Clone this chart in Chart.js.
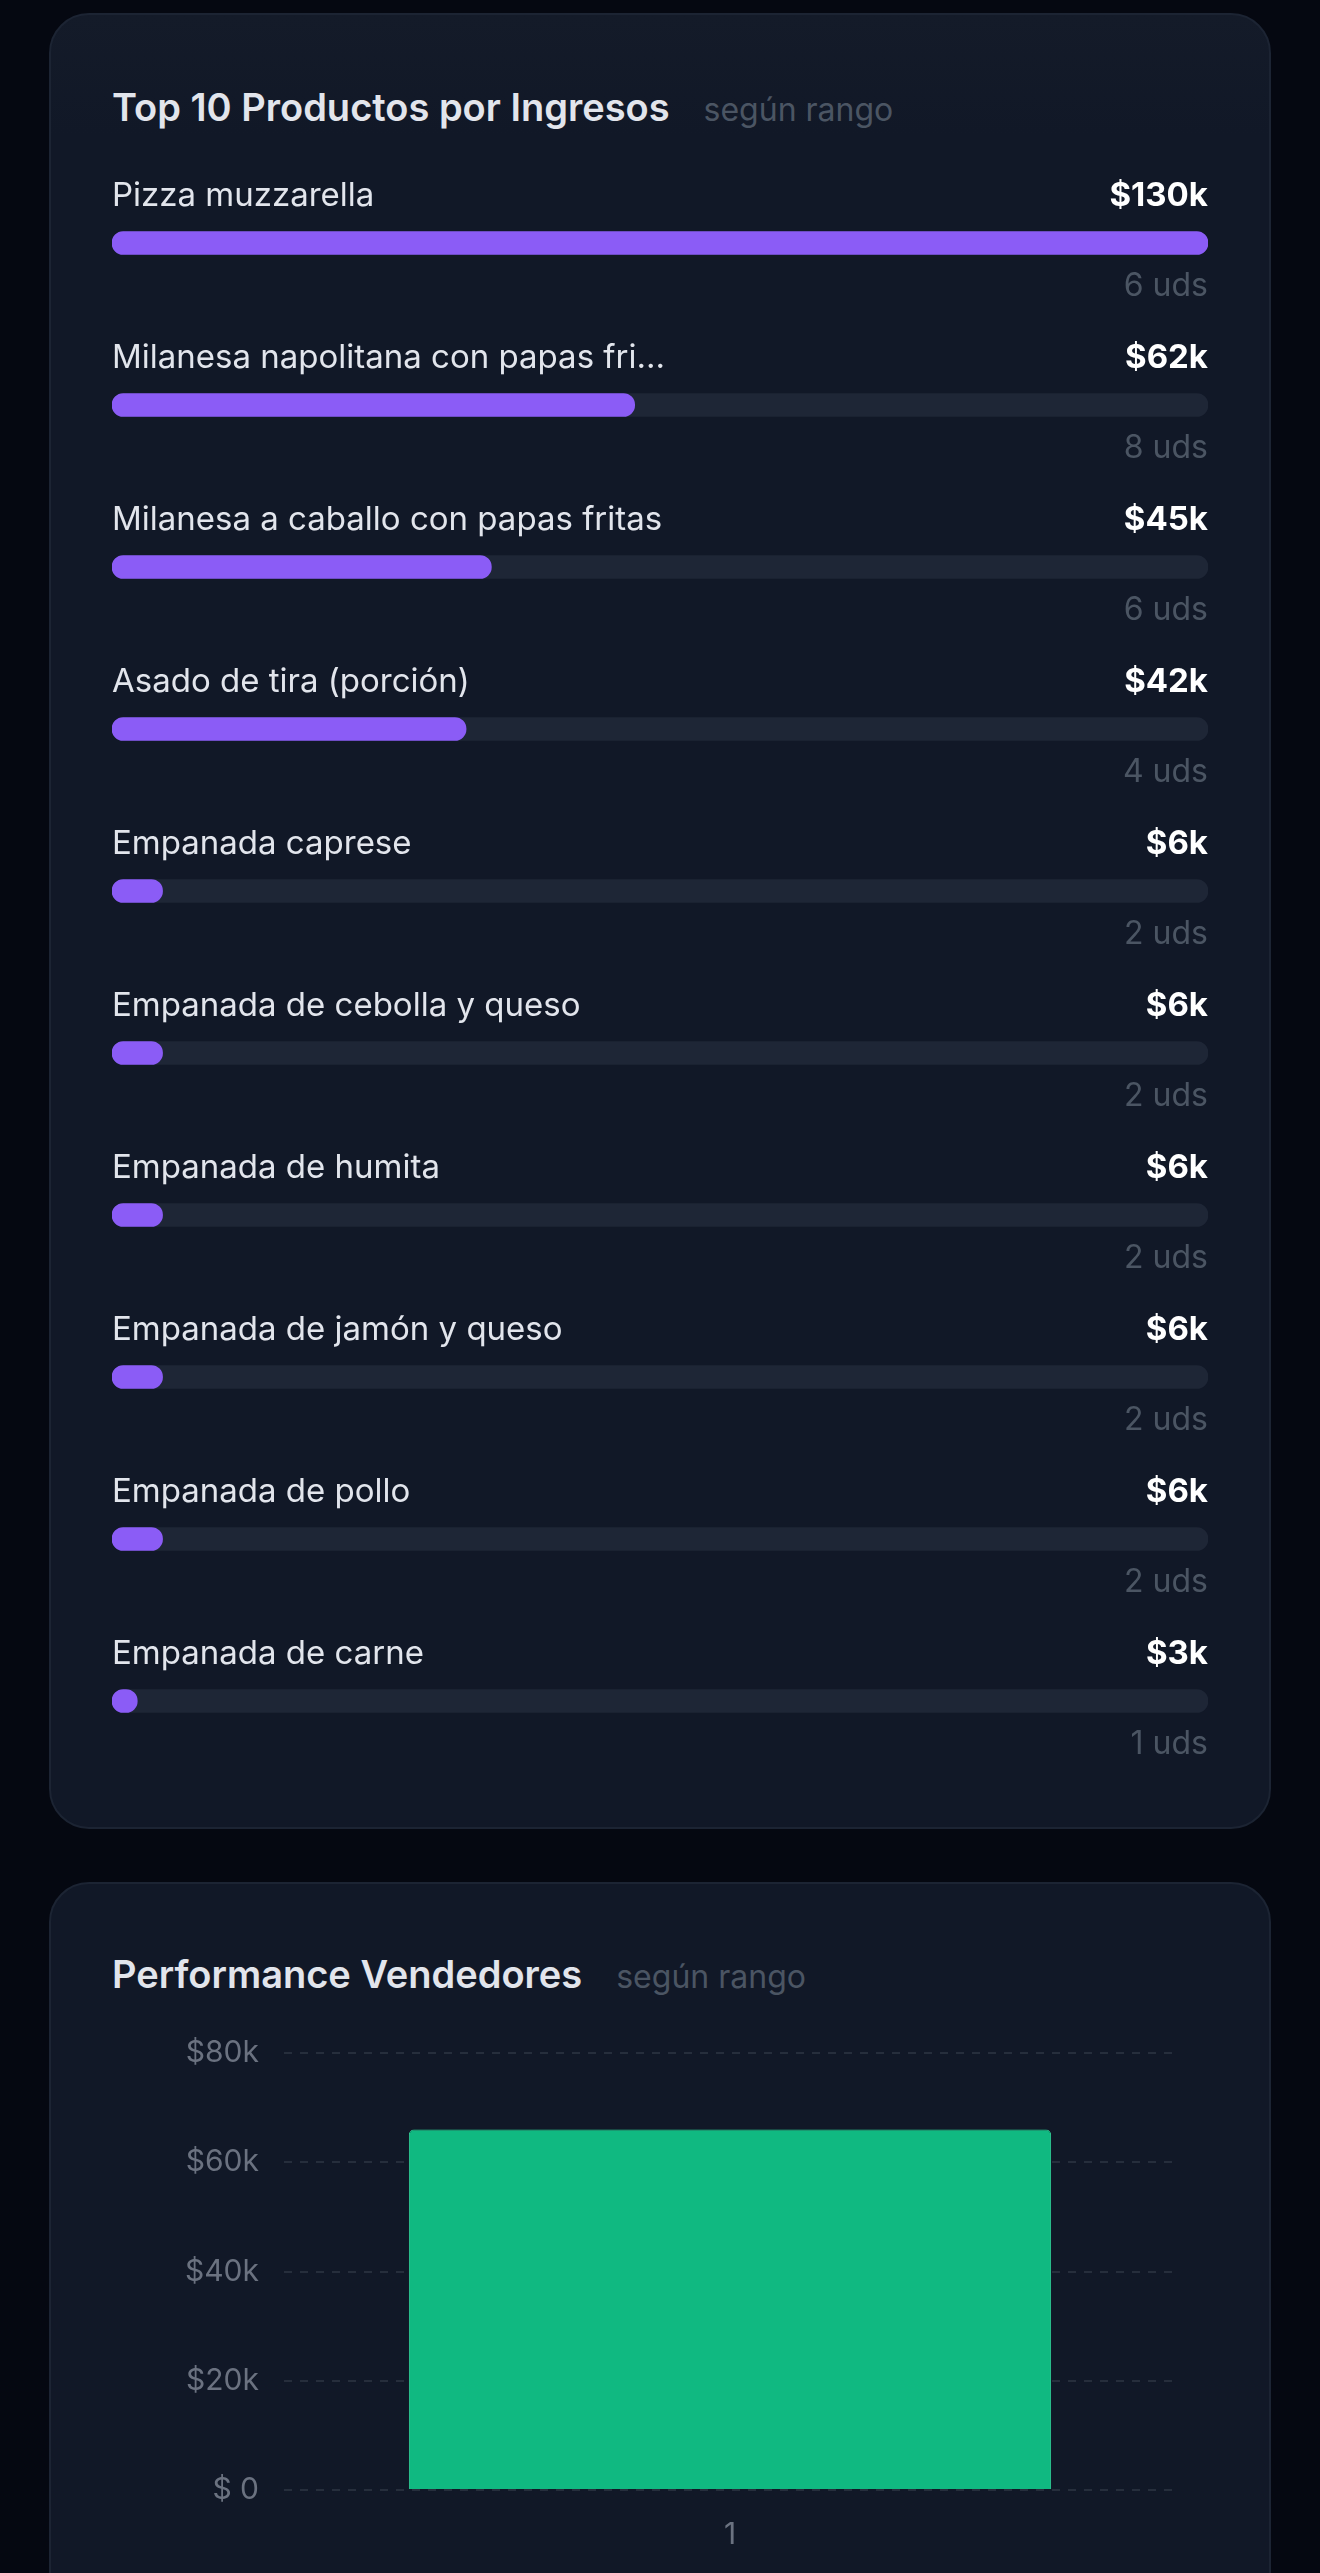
<!DOCTYPE html>
<html><head><meta charset="utf-8">
<script src="https://cdn.jsdelivr.net/npm/chart.js@4.4.1/dist/chart.umd.min.js"></script>
<style>
html,body{margin:0;padding:0;background:#050811;width:1320px;height:2573px;overflow:hidden;font-family:Inter,sans-serif;}
.card{position:absolute;left:49px;width:1222px;background:#111827;border:2px solid #1c2433;border-radius:40px;box-sizing:border-box;}
.title{position:absolute;left:112px;font-size:38px;font-weight:600;color:#e2e5ec;line-height:1;transform:translateY(-50%);white-space:nowrap;}
.title span{font-size:32px;font-weight:400;color:#4b5563;margin-left:34px;}
canvas{position:absolute;}
</style></head><body>
<div class="card" style="top:13px;height:1816px;background:linear-gradient(#141b29,#111827 120px);"></div>
<div class="card" style="top:1882px;height:760px;"></div>
<div class="title" style="top:107px;">Top 10 Productos por Ingresos<span>según rango</span></div>
<div class="title" style="top:1974px;">Performance Vendedores<span>según rango</span></div>
<canvas id="c1" width="1096" height="1620" style="left:112px;top:162px;"></canvas>
<canvas id="c2" width="1064" height="540" style="left:112px;top:2010px;"></canvas>
<script>
const productNames = ["Pizza muzzarella","Milanesa napolitana con papas fri...","Milanesa a caballo con papas fritas","Asado de tira (porción)","Empanada caprese","Empanada de cebolla y queso","Empanada de humita","Empanada de jamón y queso","Empanada de pollo","Empanada de carne"];
const productRevenueK = [130,62,45,42,6,6,6,6,6,3];
const productUnits = [6,8,6,4,2,2,2,2,2,1];
const sellerLabels = ["1"];
const sellerRevenue = [66000];
const yTicks = [0,20000,40000,60000,80000];

const maxRev = Math.max(...productRevenueK);
const rowText = {
  id:'rowText',
  afterDatasetsDraw(chart){
    const ctx = chart.ctx, meta = chart.getDatasetMeta(1);
    const L = chart.chartArea.left, R = chart.chartArea.right;
    ctx.save();
    ctx.textBaseline='middle';
    meta.data.forEach((bar,i)=>{
      const y = bar.y;
      ctx.font='400 33px Inter'; ctx.fillStyle='#e2e5ec'; ctx.textAlign='left';
      ctx.fillText(productNames[i], L, y-47);
      ctx.font='700 33px Inter'; ctx.fillStyle='#ffffff'; ctx.textAlign='right';
      ctx.fillText('$'+productRevenueK[i]+'k', R, y-47);
      ctx.font='400 32px Inter'; ctx.fillStyle='#4b5563';
      ctx.fillText(productUnits[i]+' uds', R, y+43);
    });
    ctx.restore();
  }
};
new Chart(document.getElementById('c1'),{
  type:'bar',
  data:{labels:productNames,datasets:[
    {data:productNames.map(()=>maxRev),backgroundColor:'#1e2636',grouped:false,order:2,barThickness:23,borderRadius:12,borderSkipped:false},
    {data:productRevenueK,backgroundColor:'#8b5cf6',grouped:false,order:1,barThickness:23,borderRadius:12,borderSkipped:false}
  ]},
  options:{indexAxis:'y',responsive:false,animation:false,devicePixelRatio:1,
    layout:{padding:0},
    plugins:{legend:{display:false},tooltip:{enabled:false}},
    scales:{x:{display:false,min:0,max:maxRev},y:{display:false}}},
  plugins:[rowText]
});
new Chart(document.getElementById('c2'),{
  type:'bar',
  data:{labels:sellerLabels,datasets:[{data:sellerRevenue,backgroundColor:'#10b981',borderColor:'#34d399',borderWidth:1,borderRadius:{topLeft:5,topRight:5},borderSkipped:'bottom'}]},
  options:{responsive:false,animation:false,devicePixelRatio:1,
    layout:{padding:{top:29,right:0,bottom:0,left:0}},
    plugins:{legend:{display:false},tooltip:{enabled:false}},
    scales:{
      y:{min:0,max:80000,afterFit(s){s.width=172;},
        afterBuildTicks(s){s.ticks=yTicks.map(v=>({value:v}));},
        border:{display:false},
        grid:{color:'#262e3c',lineWidth:2,drawTicks:false},
        border:{display:false,dash:[8,8]},
        ticks:{padding:25,color:'#6b7280',font:{family:'Inter',size:30},callback:v=>v===0?'$ 0':'$'+(v/1000)+'k'}},
      x:{afterFit(s){s.height=60;},grid:{display:false},border:{display:false},
        ticks:{padding:19,color:'#6b7280',font:{family:'Inter',size:30}}}
    }}
});
</script>
</body></html>
